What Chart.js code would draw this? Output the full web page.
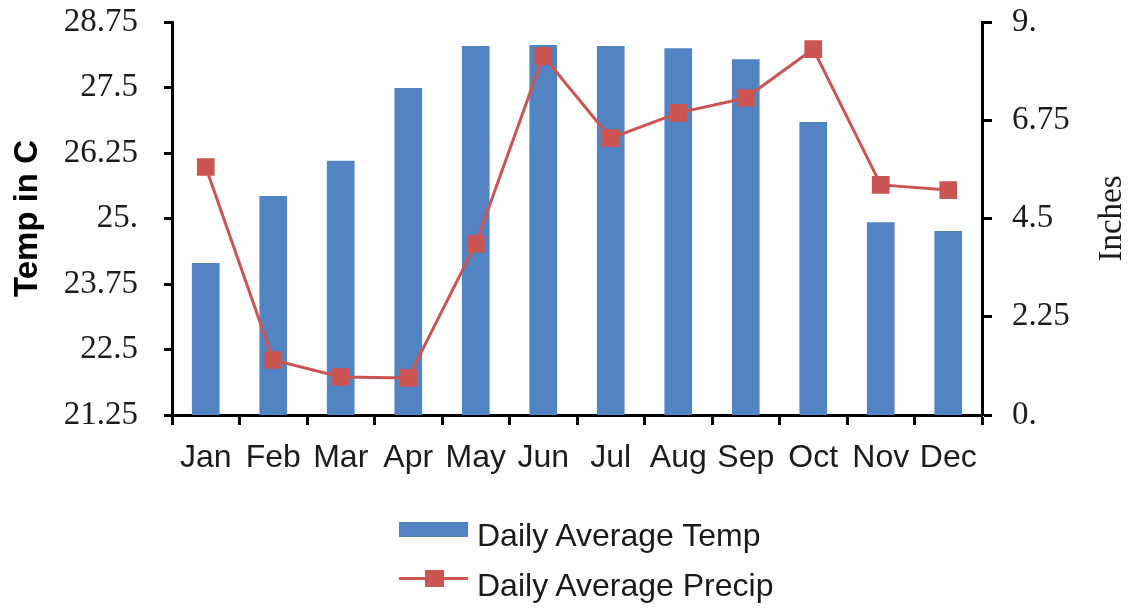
<!DOCTYPE html>
<html><head><meta charset="utf-8">
<script src="https://cdn.jsdelivr.net/npm/chart.js@4/dist/chart.umd.min.js"></script>
<style>
html,body{margin:0;padding:0;background:#fff;}
#wrap{position:relative;width:1136px;height:608px;overflow:hidden;background:#fff;}
#c{position:absolute;left:0;top:0;}
.lgtext{position:absolute;font-family:"Liberation Sans",Arial,sans-serif;font-size:32px;line-height:32px;color:#1a1a1a;white-space:nowrap;}
.sw{position:absolute;}
</style></head><body>
<div id="wrap">
<canvas id="c" width="1136" height="608"></canvas>
<div id="legend"></div>
</div>
<script>
const months = ['Jan','Feb','Mar','Apr','May','Jun','Jul','Aug','Sep','Oct','Nov','Dec'];
const tempC = [24.15, 25.43, 26.10, 27.49, 28.29, 28.31, 28.29, 28.25, 28.04, 26.84, 24.93, 24.76];
const precipIn = [5.68, 1.26, 0.87, 0.85, 3.92, 8.22, 6.34, 6.92, 7.26, 8.38, 5.27, 5.15];
const leftTickLabels = ['21.25','22.5','23.75','25.','26.25','27.5','28.75'];
const rightTickLabels = ['0.','2.25','4.5','6.75','9.'];
const tempName = 'Daily Average Temp';
const precipName = 'Daily Average Precip';
const leftTitle = 'Temp in C';
const rightTitle = 'Inches';

const BLUE = '#5283c3';
const RED = '#cb5552';
const INK = '#1c1c1c';

const rightTitlePlugin = {
  id: 'rightTitle',
  afterDraw(chart) {
    const ctx = chart.ctx;
    const y1 = chart.scales.y1;
    ctx.save();
    ctx.translate(1112, (y1.top + y1.bottom) / 2);
    ctx.rotate(-Math.PI / 2);
    ctx.font = '33px "Liberation Serif", "Times New Roman", serif';
    ctx.fillStyle = INK;
    ctx.textAlign = 'center';
    ctx.textBaseline = 'middle';
    ctx.fillText(rightTitle, 0, 0);
    ctx.restore();
  }
};

new Chart(document.getElementById('c'), {
  data: {
    labels: months,
    datasets: [
      {
        type: 'line', label: precipName, data: precipIn, yAxisID: 'y1', order: 1,
        borderColor: RED, backgroundColor: RED, borderWidth: 3,
        pointStyle: 'rect', pointRadius: 12.5, pointBorderWidth: 0, pointBackgroundColor: RED,
        tension: 0
      },
      {
        type: 'bar', label: tempName, data: tempC, yAxisID: 'y', order: 2,
        backgroundColor: BLUE, borderWidth: 0,
        barPercentage: 0.41, categoryPercentage: 1.0
      }
    ]
  },
  options: {
    responsive: false, animation: false,
    layout: { padding: { top: 22, left: 0, right: 0, bottom: 0 } },
    plugins: { legend: { display: false }, tooltip: { enabled: false } },
    scales: {
      x: {
        type: 'category', offset: true,
        grid: { offset: true, drawOnChartArea: false, drawTicks: true, tickLength: 10, tickWidth: 3, tickColor: '#000' },
        border: { display: true, color: '#000', width: 3 },
        ticks: { autoSkip: false, maxRotation: 0, minRotation: 0, padding: 14, color: INK,
          font: { family: '"Liberation Sans", Arial, sans-serif', size: 32 } },
        afterFit(s) { s.height = 608 - 415; s.paddingLeft = 0; s.paddingRight = 0; }
      },
      y: {
        type: 'linear', position: 'left', min: 21.25, max: 28.75,
        grid: { drawOnChartArea: false, drawTicks: true, tickLength: 8, tickWidth: 3, tickColor: '#000' },
        border: { display: true, color: '#000', width: 3 },
        ticks: { stepSize: 1.25, padding: 26, color: INK,
          font: { family: '"Liberation Serif", "Times New Roman", serif', size: 33 },
          callback: (v, i) => leftTickLabels[i] },
        title: { display: true, text: leftTitle, color: '#000', padding: { top: 8, bottom: 0 },
          font: { family: '"Liberation Sans", Arial, sans-serif', size: 33, weight: 'bold' } },
        afterFit(s) { s.width = 172; s.paddingTop = 0; s.paddingBottom = 0; }
      },
      y1: {
        type: 'linear', position: 'right', min: 0, max: 9,
        grid: { drawOnChartArea: false, drawTicks: true, tickLength: 10, tickWidth: 3, tickColor: '#000' },
        border: { display: true, color: '#000', width: 3 },
        ticks: { stepSize: 2.25, padding: 20, color: INK,
          font: { family: '"Liberation Serif", "Times New Roman", serif', size: 33 },
          callback: (v, i) => rightTickLabels[i] },
        afterFit(s) { s.width = 1136 - 982; s.paddingTop = 0; s.paddingBottom = 0; }
      }
    }
  },
  plugins: [rightTitlePlugin]
});

// Legend (HTML)
const lg = document.getElementById('legend');
lg.innerHTML =
  '<div class="sw" style="left:399px;top:522px;width:69px;height:15px;background:' + BLUE + '"></div>' +
  '<div class="lgtext" style="left:477px;top:519px">' + tempName + '</div>' +
  '<div class="sw" style="left:399px;top:577px;width:69px;height:3px;background:' + RED + '"></div>' +
  '<div class="sw" style="left:425px;top:570px;width:19px;height:17px;background:' + RED + '"></div>' +
  '<div class="lgtext" style="left:477px;top:569px">' + precipName + '</div>';
</script>
</body></html>
